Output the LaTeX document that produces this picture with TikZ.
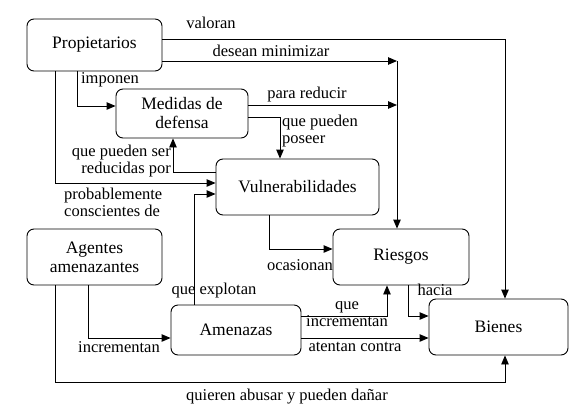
\documentclass[tikz,border=0pt]{standalone}
\usepackage{fontspec}
\setmainfont{Liberation Serif}
\usetikzlibrary{arrows.meta}
\tikzset{
  box/.style={draw, line width=0.9pt, rounded corners=7pt, align=center, inner sep=0pt,
    font=\fontsize{17.5}{19}\selectfont},
  lbl/.style={inner sep=0pt, align=center, font=\fontsize{16.5}{17}\selectfont},
  arr/.style={line width=0.9pt, -{Triangle[length=9pt,width=7.5pt]}},
  ln/.style={line width=0.9pt}
}
\begin{document}
\begin{tikzpicture}[x=1pt,y=-1pt]
\useasboundingbox (0,0) rectangle (582,413);
\fill[white] (0,0) rectangle (582,413);
% boxes
\node[box, minimum width=135pt, minimum height=52pt] (prop) at (94.5,45) {Propietarios};
\node[box, minimum width=132pt, minimum height=49pt] (med) at (182,113.5) {Medidas de\\defensa};
\node[box, minimum width=163pt, minimum height=56pt] (vul) at (297.5,187) {Vulnerabilidades};
\node[box, minimum width=136pt, minimum height=56pt] (ries) at (401,257) {Riesgos};
\node[box, minimum width=135pt, minimum height=56pt] (ag) at (94.5,257) {Agentes\\amenazantes};
\node[box, minimum width=130pt, minimum height=50pt] (amen) at (236,330) {Amenazas};
\node[box, minimum width=139pt, minimum height=56pt] (bien) at (498.5,327) {Bienes};
% coordinates
\coordinate (c1) at (505,39);
\coordinate (c2) at (397,61);
\coordinate (c3) at (397,105);
\coordinate (c4) at (280,117);
\coordinate (c5) at (77,106);
\coordinate (c6) at (55,183);
\coordinate (c7) at (173,172);
\coordinate (c8) at (194,194);
\coordinate (c9) at (269,249);
\coordinate (c10) at (88,338);
\coordinate (c11) at (55,382);
\coordinate (c11b) at (505,382);
\coordinate (c12) at (387,316);
\coordinate (c13) at (300,338);
\coordinate (c14) at (408,316);
% connectors
\draw[arr] (prop.east |- c1) -- (c1) -- (c1 |- bien.north);
\draw[arr] (prop.east |- c2) -- (c2);
\draw[arr] (c2) -- (c2 |- ries.north);
\draw[arr] (med.east |- c3) -- (c3);
\draw[arr] (med.east |- c4) -- (c4) -- (c4 |- vul.north);
\draw[arr] (c5 |- prop.south) -- (c5) -- (c5 -| med.west);
\draw[arr] (c6 |- prop.south) -- (c6) -- (c6 -| vul.west);
\draw[arr] (c7 -| vul.west) -- (c7) -- (c7 |- med.south);
\draw[arr] (c8 |- amen.north) -- (c8) -- (c8 -| vul.west);
\draw[arr] (c9 |- vul.south) -- (c9) -- (c9 -| ries.west);
\draw[arr] (c10 |- ag.south) -- (c10) -- (c10 -| amen.west);
\draw[arr] (c11 |- ag.south) -- (c11) -- (c11b) -- (c11b |- bien.south);
\draw[arr] (amen.east |- c12) -- (c12) -- (c12 |- ries.south);
\draw[arr] (amen.east |- c13) -- (bien.west |- c13);
\draw[arr] (c14 |- ries.south) -- (c14) -- (c14 -| bien.west);
% labels
\node[lbl] (l1) at (211,23) {valoran};
\node[lbl] (l2) at (271,51) {desean minimizar};
\node[lbl] (l3) at (110,80) {imponen};
\node[lbl] (l4) at (307,95) {para reducir};
\node[lbl, anchor=west, align=left] (l5) at (282,131) {que pueden\\poseer};
\node[lbl, anchor=east, align=right] (l6) at (171,161) {que pueden ser\\reducidas por};
\node[lbl, anchor=west, align=left] (l7) at (64,202) {probablemente\\conscientes de};
\node[lbl] (l8) at (214,291) {que explotan};
\node[lbl] (l9) at (300,265) {ocasionan};
\node[lbl] (l10) at (119,347) {incrementan};
\node[lbl] (l11) at (347,314) {que\\incrementan};
\node[lbl] (l12) at (355,347) {atentan contra};
\node[lbl] (l13) at (435,290) {hacia};
\node[lbl] (l14) at (287,397) {quieren abusar y pueden dañar};
\end{tikzpicture}
\end{document}
